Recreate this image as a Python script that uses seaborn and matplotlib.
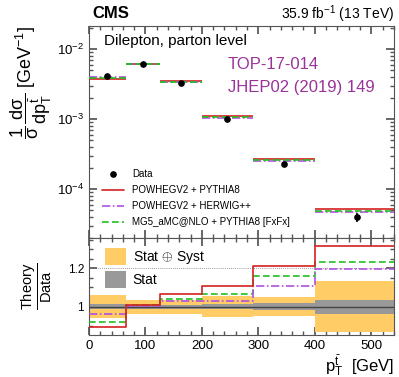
import numpy as np
import seaborn as sns
import matplotlib.pyplot as plt
from matplotlib.patches import Patch
from matplotlib.lines import Line2D
from matplotlib.ticker import MultipleLocator, LogLocator, NullFormatter

# Bin edges of the anti-top pT distribution (GeV)
edges = [0, 65, 125, 200, 290, 400, 550]

# Normalised differential cross section, data
data = [4.16e-3, 6.04e-3, 3.23e-3, 1.01e-3, 2.25e-4, 3.95e-5]
# relative uncertainties
rel_tot = [0.060, 0.037, 0.036, 0.053, 0.050, 0.134]
rel_stat = [0.014, 0.010, 0.010, 0.012, 0.020, 0.037]

# Predictions
pwg_py8 = [3.73e-3, 6.09e-3, 3.44e-3, 1.12e-3, 2.73e-4, 5.20e-5]
pwg_hw = [3.99e-3, 6.07e-3, 3.33e-3, 1.04e-3, 2.50e-4, 4.73e-5]
amc_py8 = [3.84e-3, 6.10e-3, 3.37e-3, 1.08e-3, 2.61e-4, 4.88e-5]

# Theory / Data ratios
r_pwg_py8 = [0.896, 1.008, 1.065, 1.108, 1.212, 1.315]
r_pwg_hw = [0.960, 1.003, 1.030, 1.031, 1.110, 1.198]
r_amc_py8 = [0.922, 1.010, 1.042, 1.066, 1.158, 1.235]

sns.set_theme(style="ticks")
plt.rcParams["font.family"] = ["Liberation Sans", "DejaVu Sans"]
plt.rcParams["mathtext.fontset"] = "custom"
plt.rcParams["mathtext.rm"] = "Liberation Sans"
plt.rcParams["mathtext.it"] = "Liberation Sans"
plt.rcParams["text.color"] = "black"
plt.rcParams["axes.labelcolor"] = "black"
plt.rcParams["xtick.color"] = "#555555"
plt.rcParams["ytick.color"] = "#555555"
plt.rcParams["xtick.labelcolor"] = "black"
plt.rcParams["ytick.labelcolor"] = "black"

c_red = "#d62020"
c_pur = "#b050e0"
c_grn = "#20c020"
c_orange = "#ffcc66"
c_gray = "#999999"
c_text = "#993399"

fig = plt.figure(figsize=(3.99, 3.77), dpi=100)
ax = fig.add_axes([0.223, 0.3687, 0.764, 0.5623])
axr = fig.add_axes([0.223, 0.1114, 0.764, 0.2573], sharex=ax)

lo = np.array(edges[:-1])
hi = np.array(edges[1:])
mid = (lo + hi) / 2

# upper panel
ax.hlines(pwg_py8, lo, hi, color=c_red, lw=1.2, zorder=3)
ax.hlines(pwg_hw, lo, hi, color=c_pur, lw=1.2, linestyles=(0, (5, 1.5, 1, 1.5)), zorder=3)
ax.hlines(amc_py8, lo, hi, color=c_grn, lw=1.2, linestyles=(0, (4, 2)), zorder=3)
yerr = np.array(data) * np.array(rel_tot)
ax.errorbar(mid, data, yerr=yerr, fmt="o", color="black", ms=3.8, elinewidth=1.2, capsize=0, zorder=4)
ax.set_yscale("log")
ax.set_ylim(2.0e-5, 2.13e-2)
ax.set_xlim(0, 540)
ax.tick_params(labelbottom=False)
ax.set_ylabel(r"$\dfrac{1}{\sigma}\,\dfrac{d\sigma}{dp_{T}^{\bar{t}}}$ [GeV$^{-1}$]", fontsize=13, loc="top",
              labelpad=2)

leg_handles = [
    Line2D([], [], marker="o", color="black", ls="none", ms=3.8),
    Line2D([], [], color=c_red, lw=1.2),
    Line2D([], [], color=c_pur, lw=1.2, ls=(0, (5, 1.5, 1, 1.5))),
    Line2D([], [], color=c_grn, lw=1.2, ls=(0, (4, 2))),
]
leg_labels = ["Data", "POWHEGV2 + PYTHIA8", "POWHEGV2 + HERWIG++", "MG5_aMC@NLO + PYTHIA8 [FxFx]"]
ax.legend(leg_handles, leg_labels, loc="lower left", bbox_to_anchor=(0.02, 0.02), frameon=False,
          fontsize=7, handlelength=2.3, labelspacing=0.6, borderaxespad=0.3)

ax.text(0.05, 0.93, "Dilepton, parton level", transform=ax.transAxes, fontsize=11, va="center")
ax.text(0.455, 0.82, "TOP-17-014", transform=ax.transAxes, fontsize=12, color=c_text, va="center")
ax.text(0.455, 0.71, "JHEP02 (2019) 149", transform=ax.transAxes, fontsize=12, color=c_text, va="center")
fig.text(0.232, 0.963, "CMS", fontsize=12, fontweight="bold", va="center")
fig.text(0.987, 0.963, r"35.9 fb$^{-1}$ (13 TeV)", fontsize=10, ha="right", va="center")

# ratio panel
r_edges = np.array(edges, dtype=float)
r_edges[-1] = 540
tot_lo = 1 - np.array(rel_tot)
tot_hi = 1 + np.array(rel_tot)
st_lo = 1 - np.array(rel_stat)
st_hi = 1 + np.array(rel_stat)
for i in range(len(lo)):
    axr.fill_between([r_edges[i], r_edges[i + 1]], tot_lo[i], tot_hi[i], color=c_orange, lw=0, zorder=1)
    axr.fill_between([r_edges[i], r_edges[i + 1]], st_lo[i], st_hi[i], color=c_gray, lw=0, zorder=2)
axr.axhline(1.0, color="#444444", lw=1.0, zorder=3)
axr.axhline(1.2, color="#777777", lw=0.6, ls=(0, (1, 1.5)), zorder=3)

for vals, col, ls in [(r_amc_py8, c_grn, (0, (4, 2))),
                      (r_pwg_hw, c_pur, (0, (5, 1.5, 1, 1.5))),
                      (r_pwg_py8, c_red, "-")]:
    sns.lineplot(x=r_edges, y=list(vals) + [vals[-1]], drawstyle="steps-post", color=col,
                 lw=1.2, ls=ls, ax=axr, zorder=4)

axr.set_ylim(0.852, 1.358)
axr.set_xlim(0, 540)
axr.set_yticks([1.0, 1.2])
axr.set_yticklabels(["1", "1.2"])
axr.yaxis.set_minor_locator(MultipleLocator(0.05))
axr.set_xticks([0, 100, 200, 300, 400, 500])
axr.xaxis.set_minor_locator(MultipleLocator(20))
axr.set_ylabel(r"$\frac{\mathrm{Theory}}{\mathrm{Data}}$", fontsize=15, labelpad=10)
axr.set_xlabel(r"$p_{T}^{\bar{t}}$  [GeV]", fontsize=12, loc="right", labelpad=1)

patch_handles = [Patch(color=c_orange, lw=0), Patch(color=c_gray, lw=0)]
axr.legend(patch_handles, [r"Stat $\oplus$ Syst", "Stat"], loc="upper left", frameon=False,
           fontsize=10, handlelength=1.5, handleheight=1.5, labelspacing=0.35, borderaxespad=0.3,
           handletextpad=0.5, bbox_to_anchor=(0.02, 1.0))

for a in (ax, axr):
    a.tick_params(which="both", direction="in", top=True, right=True, labelsize=9.5)
    a.tick_params(which="major", length=6)
    a.tick_params(which="minor", length=3)
    for s in a.spines.values():
        s.set_linewidth(0.8)
        s.set_color("#555555")
ax.xaxis.set_minor_locator(MultipleLocator(20))
ax.yaxis.set_major_locator(LogLocator(base=10, numticks=10))
ax.yaxis.set_minor_locator(LogLocator(base=10, subs=np.arange(2, 10), numticks=10))
ax.yaxis.set_minor_formatter(NullFormatter())
axr.tick_params(axis="y", labelsize=8.5)

fig.savefig("out.png", dpi=100)
